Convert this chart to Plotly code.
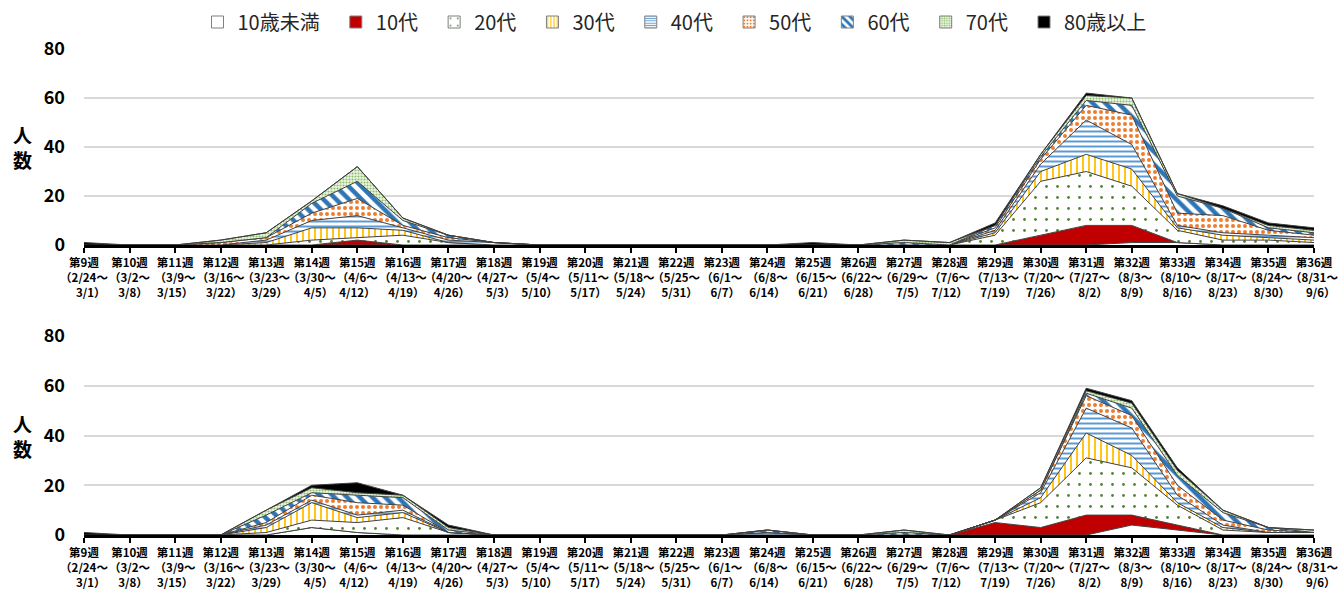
import math
import plotly.graph_objects as go
from plotly.subplots import make_subplots

# ---------------- data ----------------
week_names = ["第9週", "第10週", "第11週", "第12週", "第13週", "第14週", "第15週", "第16週",
              "第17週", "第18週", "第19週", "第20週", "第21週", "第22週", "第23週", "第24週",
              "第25週", "第26週", "第27週", "第28週", "第29週", "第30週", "第31週", "第32週",
              "第33週", "第34週", "第35週", "第36週"]
range_start = ["2/24", "3/2", "3/9", "3/16", "3/23", "3/30", "4/6", "4/13", "4/20", "4/27",
               "5/4", "5/11", "5/18", "5/25", "6/1", "6/8", "6/15", "6/22", "6/29", "7/6",
               "7/13", "7/20", "7/27", "8/3", "8/10", "8/17", "8/24", "8/31"]
range_end = ["3/1", "3/8", "3/15", "3/22", "3/29", "4/5", "4/12", "4/19", "4/26", "5/3",
             "5/10", "5/17", "5/24", "5/31", "6/7", "6/14", "6/21", "6/28", "7/5", "7/12",
             "7/19", "7/26", "8/2", "8/9", "8/16", "8/23", "8/30", "9/6"]

age_groups = ["10歳未満", "10代", "20代", "30代", "40代", "50代", "60代", "70代", "80歳以上"]

# upper chart
top_u10 = [0,0,0,0,0,0,0,0,0,0,0,0,0,0,0,0,0,0,0,0,0,0,0,1,1,0,0,0]
top_10s = [0,0,0,0,0,0,2,0,0,0,0,0,0,0,0,0,0,0,0,0,0,4,8,7,0,0,0,0]
top_20s = [0,0,0,0,0,2,1,4,1,0,0,0,0,0,0,0,0,0,0,0,4,22,22,16,5,2,2,1]
top_30s = [0,0,0,0,1,5,4,2,0,0,0,0,0,0,0,0,0,0,0,0,1,4,7,7,1,2,1,1]
top_40s = [0,0,0,0,1,3,5,1,1,1,0,0,0,0,0,0,0,0,0,0,1,3,14,10,1,1,1,1]
top_50s = [0,0,0,1,1,3,7,1,1,0,0,0,0,0,0,0,0,0,0,0,1,2,6,12,5,7,2,1]
top_60s = [0,0,0,0,0,4,7,2,1,0,0,0,0,0,0,0,0,0,1,0,1,1,2,4,7,3,1,1]
top_70s = [0,0,0,1,2,1,6,1,0,0,0,0,0,0,0,0,0,0,1,1,0,1,2,3,1,0,1,1]
top_80p = [1,0,0,0,0,0,0,0,0,0,0,0,0,0,0,0,1,0,0,0,1,0,1,0,0,1,1,1]

# lower chart
bot_u10 = [0,0,0,0,0,3,1,0,0,0,0,0,0,0,0,0,0,0,0,0,0,0,0,4,2,0,0,0]
bot_10s = [0,0,0,0,0,0,0,0,0,0,0,0,0,0,0,0,0,0,0,0,5,3,8,4,2,0,0,0]
bot_20s = [0,0,0,0,1,3,4,7,1,0,0,0,0,0,0,0,0,0,0,0,1,10,23,19,8,2,1,1]
bot_30s = [0,0,0,0,2,7,2,2,0,0,0,0,0,0,0,0,0,0,0,0,0,2,10,5,1,1,0,0]
bot_40s = [0,0,0,0,1,1,1,1,0,0,0,0,0,0,0,1,0,0,0,0,0,2,10,11,3,1,0,0]
bot_50s = [0,0,0,0,1,2,5,2,0,0,0,0,0,0,0,0,0,0,0,0,0,1,5,5,4,2,1,0]
bot_60s = [0,0,0,0,3,1,3,3,1,0,0,0,0,0,0,1,0,0,1,0,0,0,1,3,4,3,1,0]
bot_70s = [0,0,0,0,2,2,1,1,1,0,0,0,0,0,0,0,0,0,1,0,0,1,1,2,2,1,0,1]
bot_80p = [1,0,0,0,0,1,4,0,1,0,0,0,0,0,0,0,0,0,0,0,0,0,1,1,1,0,0,0]

y_ticks = [0, 20, 40, 60, 80]

categories = [f"{w}（{s}～{e}）" for w, s, e in zip(week_names, range_start, range_end)]

top_series = [top_u10, top_10s, top_20s, top_30s, top_40s, top_50s, top_60s, top_70s, top_80p]
bot_series = [bot_u10, bot_10s, bot_20s, bot_30s, bot_40s, bot_50s, bot_60s, bot_70s, bot_80p]

# ---------------- tick label layout (3 lines, last line pushed right) ----------------
TICK_FS = 11.5


def text_w(s, fs=TICK_FS):
    w = 0.0
    for ch in s:
        if ch.isdigit():
            w += 0.56
        elif ch == "/":
            w += 0.37
        else:
            w += 1.0
    return w * fs


def spacer(n):
    return f"<span style='color:rgba(0,0,0,0)'>{'0' * n}</span>" if n > 0 else ""


digit_w = 0.56 * TICK_FS
ticktext = []
for w, s, e in zip(week_names, range_start, range_end):
    l1, l2, l3 = w, f"（{s}～", f"{e}）"
    pad = max(0, math.floor((text_w(l2) - text_w(l3)) / digit_w))
    ticktext.append("<br>".join([l1, l2, spacer(pad) + l3]))

legend_names = [g + "<span style='color:rgba(0,0,0,0)'>0</span>" for g in age_groups]

# ---------------- styles ----------------
def pat(shape, fg, size, solidity, bg="#FFFFFF"):
    return dict(shape=shape, fgcolor=fg, bgcolor=bg, size=size, solidity=solidity,
                fillmode="replace", fgopacity=1)


styles = [
    dict(fill="#FFFFFF", pattern=None),
    dict(fill="#C00000", pattern=None),
    dict(fill="#FFFFFF", pattern=pat(".", "#548235", 11, 0.05)),
    dict(fill="#FFFFFF", pattern=pat("|", "#FFC000", 6, 0.3)),
    dict(fill="#FFFFFF", pattern=pat("-", "#5B9BD5", 5, 0.4)),
    dict(fill="#FFFFFF", pattern=pat(".", "#ED7D31", 6, 0.35)),
    dict(fill="#FFFFFF", pattern=pat("\\", "#2E75B6", 9, 0.5)),
    dict(fill="#FFFFFF", pattern=pat(".", "#8CBF6A", 3, 0.4, bg="#EEF6E8")),
    dict(fill="#000000", pattern=None),
]
edge = "#404040"
FONT = "Noto Sans CJK JP"

fig = make_subplots(rows=2, cols=1, vertical_spacing=0.0)

for row, series in ((1, top_series), (2, bot_series)):
    for name, vals, st in zip(age_groups, series, styles):
        kw = dict(fillcolor=st["fill"])
        if st["pattern"] is not None:
            kw["fillpattern"] = st["pattern"]
        fig.add_trace(go.Scatter(
            x=categories, y=vals, name=name, mode="lines",
            stackgroup=f"s{row}", line=dict(color=edge, width=1),
            showlegend=False, hoverinfo="skip", **kw), row=row, col=1)

# legend entries (square swatches)
for name, st in zip(legend_names, styles):
    marker = dict(color=st["fill"], line=dict(color="#7F7F7F", width=1))
    if st["pattern"] is not None:
        p = dict(st["pattern"])
        p["size"] = max(3, p["size"] - 2)
        marker["pattern"] = p
    fig.add_trace(go.Bar(x=[None], y=[None], name=name, marker=marker, showlegend=True,
                         hoverinfo="skip"), row=1, col=1)

H = 590
bot_m = 55
R_M = 24
ph = H - bot_m  # top margin 0 so the in-paper legend does not push the plot
pw = 1338 - 84 - R_M
d1 = [1 - 245 / ph, 1 - 49 / ph]
d2 = [0.0, 1 - 336 / ph]

fig.update_layout(
    width=1338, height=H,
    margin=dict(l=84, r=R_M, t=0, b=bot_m),
    paper_bgcolor="white", plot_bgcolor="white",
    font=dict(family=FONT, color="#000000"),
    legend=dict(orientation="h", x=(680 - 84) / pw, xanchor="center", y=1 - 22 / ph,
                yanchor="middle", font=dict(size=20, color="#262626", family=FONT),
                traceorder="normal", bgcolor="rgba(0,0,0,0)"),
    showlegend=True,
)
fig.update_yaxes(domain=d1, row=1, col=1)
fig.update_yaxes(domain=d2, row=2, col=1)

fig.update_xaxes(
    type="category", range=[0, len(categories) - 1], tickangle=0,
    tickmode="array", tickvals=categories, ticktext=ticktext,
    showline=True, linecolor="black", linewidth=3, mirror=False,
    ticks="outside", ticklen=5, tickwidth=2, tickcolor="black",
    showgrid=False, tickfont=dict(size=TICK_FS, family=FONT, color="black", weight="bold"),
    automargin=False, fixedrange=True,
)
fig.update_yaxes(
    range=[0, 80], tickvals=y_ticks, showgrid=True, gridcolor="#D9D9D9", gridwidth=1.5,
    zeroline=False, showline=False, ticks="", ticklabelstandoff=18,
    tickfont=dict(size=18, family=FONT, color="black", weight="bold"),
    automargin=False, fixedrange=True,
)

for dom in (d1, d2):
    fig.add_annotation(text="人<br>数", xref="paper", yref="paper",
                       x=(22 - 84) / pw, y=(dom[0] + dom[1]) / 2,
                       xanchor="center", yanchor="middle", showarrow=False,
                       font=dict(size=19, family=FONT, color="black", weight="bold"))

fig.write_html("out.html", post_script="document.body.style.margin='0px';",
               config={"displayModeBar": False})
